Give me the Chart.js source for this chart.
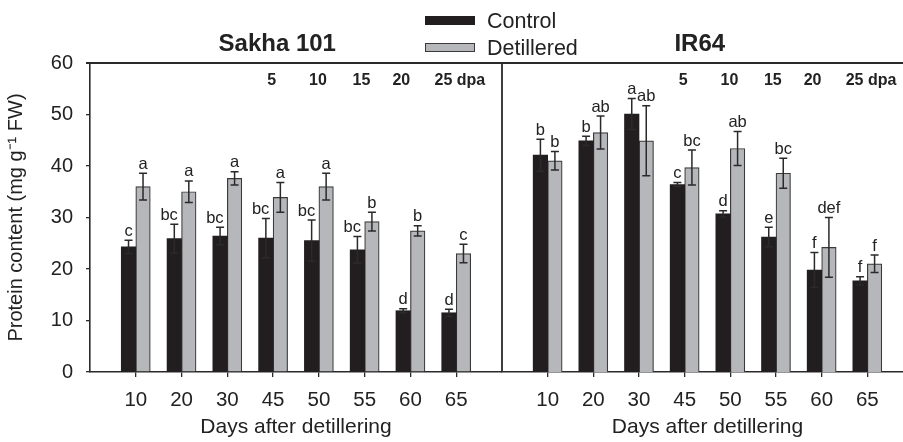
<!DOCTYPE html>
<html>
<head>
<meta charset="utf-8">
<script src="https://cdn.jsdelivr.net/npm/chart.js@4.4.0/dist/chart.umd.min.js"></script>
<style>
  body { margin: 0; background: #fff; }
  #wrap { position: relative; width: 903px; height: 442px; overflow: hidden; font-family: 'Liberation Sans', Arial, sans-serif; color: #222; }
  canvas { position: absolute; top: 0; }
  #left { left: 0; }
  #right { left: 482px; }
  .key { position: absolute; left: 425px; width: 50px; height: 9px; box-sizing: border-box; }
  .keyText { position: absolute; left: 487px; font-size: 21.5px; line-height: 22px; white-space: nowrap; }
</style>
</head>
<body>
<div id="wrap">
  <canvas id="left" width="502" height="442"></canvas>
  <canvas id="right" width="431" height="442"></canvas>
</div>
<script>
const days = ['10', '20', '30', '45', '50', '55', '60', '65'];
const seriesNames = ['Control', 'Detillered'];
const dpaLabels = ['5', '10', '15', '20', '25 dpa'];
const dpaAt = [2.97, 3.98, 4.93, 5.8, 7.08];

// Sakha 101
const sakhaControl = [24.3, 25.9, 26.4, 26.0, 25.5, 23.7, 11.9, 11.5];
const sakhaControlErr = [1.3, 2.8, 1.7, 3.8, 4.0, 2.6, 0.4, 0.7];
const sakhaDetillered = [36.0, 35.0, 37.6, 33.9, 36.0, 29.2, 27.4, 23.0];
const sakhaDetilleredErr = [2.6, 2.1, 1.3, 2.9, 2.6, 1.8, 1.0, 1.8];
const sakhaControlLetters = ['c', 'bc', 'bc', 'bc', 'bc', 'bc', 'd', 'd'];
const sakhaDetilleredLetters = ['a', 'a', 'a', 'a', 'a', 'b', 'b', 'c'];

// IR64
const irControl = [42.1, 44.9, 50.1, 36.4, 30.7, 26.2, 19.8, 17.7];
const irControlErr = [3.1, 0.9, 3.0, 0.4, 0.6, 1.9, 3.4, 0.8];
const irDetillered = [41.0, 46.5, 44.9, 39.7, 43.4, 38.6, 24.2, 21.0];
const irDetilleredErr = [1.8, 3.2, 6.8, 3.4, 3.3, 2.9, 5.8, 1.7];
const irControlLetters = ['b', 'b', 'a', 'c', 'd', 'e', 'f', 'f'];
const irDetilleredLetters = ['b', 'ab', 'ab', 'bc', 'ab', 'bc', 'def', 'f'];

const yTicks = [0, 10, 20, 30, 40, 50, 60];

const FONT = "'Liberation Sans', Arial, sans-serif";
const INK = '#2a2a2a';
const colors = ['#221e1f', '#b6b7ba'];

// legend (spans both panels)
const wrap = document.getElementById('wrap');
seriesNames.forEach(function (name, i) {
    const box = document.createElement('div');
    box.className = 'key';
    box.style.top = (i === 0 ? 16 : 43) + 'px';
    box.style.background = colors[i];
    if (i === 1) box.style.border = '1px solid #3a3a3a';
    wrap.appendChild(box);
    const txt = document.createElement('div');
    txt.className = 'keyText';
    txt.style.top = (i === 0 ? 10 : 36.5) + 'px';
    txt.textContent = name;
    wrap.appendChild(txt);
});

const panelPlugin = {
    id: 'panel',
    afterDatasetsDraw(chart, args, opts) {
        const ctx = chart.ctx;
        const a = chart.chartArea;
        const x = chart.scales.x, y = chart.scales.y;
        ctx.save();

        // error bars and letters
        chart.data.datasets.forEach(function (ds, di) {
            chart.getDatasetMeta(di).data.forEach(function (bar, i) {
                const v = ds.data[i].y, e = opts.errors[di][i];
                const top = y.getPixelForValue(v + e), bot = y.getPixelForValue(v - e);
                ctx.strokeStyle = INK;
                ctx.lineWidth = 1.5;
                ctx.beginPath();
                ctx.moveTo(bar.x, top); ctx.lineTo(bar.x, bot);
                ctx.moveTo(bar.x - 4, top); ctx.lineTo(bar.x + 4, top);
                ctx.moveTo(bar.x - 4, bot); ctx.lineTo(bar.x + 4, bot);
                ctx.stroke();
                const letter = opts.letters[di][i];
                ctx.fillStyle = '#222';
                ctx.font = '16.5px ' + FONT;
                ctx.textBaseline = 'alphabetic';
                // longer control labels sit to the left so they clear the grey bar
                if (di === 0 && letter.length > 1) {
                    ctx.textAlign = 'right';
                    ctx.fillText(letter, bar.x + 3.5, top - 4.5);
                } else {
                    ctx.textAlign = 'center';
                    ctx.fillText(letter, bar.x, top - 4.5);
                }
            });
        });

        // frame
        ctx.strokeStyle = INK;
        ctx.lineWidth = 1.8;
        ctx.beginPath();
        ctx.moveTo(a.left - (opts.leftEdge ? 0 : 4), a.top);
        ctx.lineTo(a.right, a.top);
        if (opts.leftEdge) {
            ctx.moveTo(a.left, a.top);
            ctx.lineTo(a.left, a.bottom);
        }
        ctx.stroke();

        // panel title
        ctx.fillStyle = '#222';
        ctx.textAlign = 'center';
        ctx.textBaseline = 'middle';
        ctx.font = 'bold 24px ' + FONT;
        ctx.fillText(opts.title, x.getPixelForValue(opts.titleAt), a.top - 19);

        // dpa labels
        ctx.font = 'bold 16px ' + FONT;
        dpaLabels.forEach(function (t, i) {
            ctx.fillText(t, x.getPixelForValue(dpaAt[i]), a.top + 18);
        });
        ctx.restore();
    }
};

function makePanel(id, ctrl, det, ctrlErr, detErr, ctrlLetters, detLetters, title, titleAt, isLeft) {
    const series = [ctrl, det];
    new Chart(document.getElementById(id), {
        type: 'bar',
        data: {
            datasets: series.map(function (vals, s) {
                return {
                    label: seriesNames[s],
                    data: vals.map(function (v, i) { return { x: i, y: v }; }),
                    backgroundColor: colors[s],
                    borderColor: s === 0 ? colors[0] : '#3a3a3a',
                    borderWidth: s === 0 ? 0 : 1.2,
                    barThickness: 14.5
                };
            })
        },
        options: {
            responsive: false,
            animation: false,
            layout: { padding: { top: 63, left: isLeft ? 0 : 20, right: 0, bottom: 0 } },
            plugins: {
                legend: { display: false },
                tooltip: { enabled: false },
                panel: {
                    errors: [ctrlErr, detErr],
                    letters: [ctrlLetters, detLetters],
                    title: title,
                    titleAt: titleAt,
                    leftEdge: !isLeft
                }
            },
            scales: {
                x: {
                    type: 'linear',
                    min: -1,
                    max: 8,
                    offset: false,
                    afterBuildTicks: function (scale) {
                        scale.ticks = days.map(function (d, i) { return { value: i }; });
                    },
                    afterFit: function (scale) { scale.height = 70; },
                    ticks: {
                        callback: function (v) { return days[v]; },
                        font: { family: FONT, size: 20.5 },
                        color: '#222',
                        padding: 11,
                        maxRotation: 0
                    },
                    grid: { display: true, offset: false, drawOnChartArea: false, tickLength: 5, color: INK, lineWidth: 1.3 },
                    border: { display: true, color: INK, width: 1.6 },
                    title: {
                        display: true,
                        text: 'Days after detillering',
                        font: { family: FONT, size: 21 },
                        color: '#222',
                        padding: { top: 0, bottom: 2 }
                    }
                },
                y: {
                    display: isLeft,
                    min: 0,
                    max: 60,
                    afterBuildTicks: function (scale) {
                        scale.ticks = yTicks.map(function (v) { return { value: v }; });
                    },
                    afterFit: function (scale) { scale.width = isLeft ? 90 : 0; },
                    ticks: {
                        font: { family: FONT, size: 20 },
                        color: '#222',
                        padding: 13
                    },
                    grid: { display: true, drawOnChartArea: false, tickLength: 4, color: INK, lineWidth: 1.3 },
                    border: { display: true, color: INK, width: 1.6 },
                    title: {
                        display: true,
                        text: 'Protein content (mg g\u207B\u00B9 FW)',
                        font: { family: FONT, size: 20 },
                        color: '#222',
                        padding: { top: 4, bottom: 0 }
                    }
                }
            }
        },
        plugins: [panelPlugin]
    });
}

makePanel('left', sakhaControl, sakhaDetillered, sakhaControlErr, sakhaDetilleredErr,
    sakhaControlLetters, sakhaDetilleredLetters, 'Sakha 101', 3.09, true);
makePanel('right', irControl, irDetillered, irControlErr, irDetilleredErr,
    irControlLetters, irDetilleredLetters, 'IR64', 3.33, false);
</script>
</body>
</html>
